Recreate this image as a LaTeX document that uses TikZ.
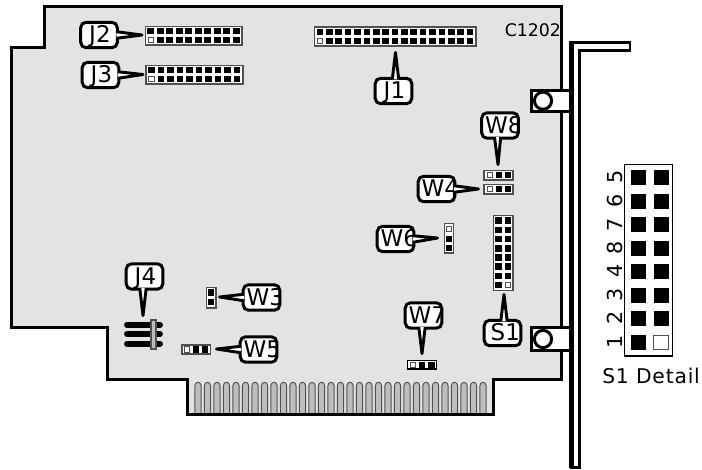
\documentclass[tikz,border=0pt]{standalone}
\usepackage{fontspec}
\usetikzlibrary{calc}
\setmainfont{DejaVu Sans}
\newfontfamily\detailfont[LetterSpace=4]{DejaVu Sans}
\definecolor{boardgray}{HTML}{E3E3E3}
\definecolor{fingergray}{HTML}{BDBDBD}
\definecolor{edgegray}{HTML}{505050}
\newcommand{\PinAt}[2]{\fill (#1-3.3,#2-3.3) rectangle (#1+3.3,#2+3.3);}
\newcommand{\OpenPinAt}[2]{\draw[openpin] (#1-2.6,#2-2.6) rectangle (#1+2.6,#2+2.6);}
\newcommand{\PointerFrom}[5]{%
  \filldraw[pointerline] ($(#1)+(#2)$) -- (#3) -- ($(#1)+(#4)$) #5;}
\tikzset{
  callbox/.style={draw=black,fill=white,line width=2.25pt,rounded corners=4pt,
    inner sep=0pt,outer sep=0pt,minimum width=27.4pt,minimum height=19.1pt},
  caption/.style 2 args={path picture={
    \node[anchor=base west,inner sep=0pt,minimum width=0pt,minimum height=0pt,draw=none,fill=none,
      font=\fontsize{17.25}{20}\selectfont]
      (t#1) at ($(path picture bounding box.west)+(#2,7.5)$) {#1};}},
  pointerline/.style={draw=black,fill=white,line width=2.2pt,line join=round},
  outline/.style={draw=black,line width=2.25pt,line join=miter},
  headerbox/.style={draw=edgegray,fill=white,line width=.9pt},
  openpin/.style={draw=edgegray,fill=white,line width=.7pt},
  fingerline/.style={draw=edgegray,fill=fingergray,line width=.7pt},
  rotdigit/.style={rotate=90,anchor=base,inner sep=0pt,font=\fontsize{15.5}{18}\selectfont},
}
\begin{document}
\begin{tikzpicture}[x=.75pt,y=-.75pt]
\useasboundingbox (0,0) rectangle (702,469);
% board
\fill[boardgray] (44,6) -- (561,6) -- (561,379) -- (493,379) -- (493,414) -- (187,414) -- (187,379) -- (107,379) -- (107,327) -- (11.5,327) -- (11.5,47.5) -- (44,47.5) -- cycle;
\node[anchor=base west,inner sep=0pt,font=\fontsize{13}{16}\selectfont] (c1202) at (504.5,36) {C1202};
% edge connector
\foreach \x in {0,...,30}{
  \pgfmathsetmacro{\fx}{198+9.5*\x}
  \draw[fingerline] (\fx-3.2,413) -- (\fx-3.2,386) .. controls (\fx-3.2,381) and (\fx+3.2,381) .. (\fx+3.2,386) -- (\fx+3.2,413);
}
\draw[outline] (44,6) -- (561,6) -- (561,379) -- (493,379) -- (493,414) -- (187,414) -- (187,379) -- (107,379) -- (107,327) -- (11.5,327) -- (11.5,47.5) -- (44,47.5) -- cycle;
% mounting tabs
\draw[outline,fill=white] (570,90) -- (531.5,90) -- (531.5,111.5) -- (570,111.5);
\draw[outline,fill=white] (543,100.7) circle (8.6);
\draw[outline,fill=white] (570,327) -- (531.5,327) -- (531.5,350.5) -- (570,350.5);
\draw[outline,fill=white] (543,339) circle (8.6);
% bracket
\draw[draw=black,fill=white,line width=2.1pt] (571.5,42.3) -- (630,42.3) -- (630,50.8) -- (579.5,50.8) -- (579.5,467.5) -- (571.5,467.5) -- cycle;
\draw[draw=black,line width=3.3pt] (571.5,41) -- (571.5,468);
% J2, J3
\draw[headerbox] (145.5,26.5) rectangle (242,45);
\foreach \i in {0,...,9}{\pgfmathsetmacro{\px}{150.7+9.5*\i}\PinAt{\px}{31}\ifnum\i>0 \PinAt{\px}{40}\fi}
\OpenPinAt{150.7}{40}
\draw[headerbox] (146,65.5) rectangle (243,84);
\foreach \i in {0,...,9}{\pgfmathsetmacro{\px}{151.5+9.5*\i}\PinAt{\px}{70}\ifnum\i>0 \PinAt{\px}{79}\fi}
\OpenPinAt{151.5}{79}
% J1
\draw[headerbox] (314.5,27) rectangle (476,46);
\foreach \i in {0,...,16}{\pgfmathsetmacro{\px}{320+9.375*\i}\PinAt{\px}{32}\ifnum\i>0 \PinAt{\px}{41}\fi}
\OpenPinAt{320}{41}
% W8, W4
\draw[headerbox] (484,170.5) rectangle (513,180);
\OpenPinAt{490}{175}\PinAt{499}{175}\PinAt{508}{175}
\draw[headerbox] (484,184.5) rectangle (513,194);
\OpenPinAt{490}{189}\PinAt{499}{189}\PinAt{508}{189}
% W6
\draw[headerbox] (444.5,223.5) rectangle (453.5,253);
\OpenPinAt{449}{229}\PinAt{449}{239}\PinAt{449}{248}
% S1 header
\draw[headerbox] (493.5,215.5) rectangle (513,290.5);
\foreach \i in {0,...,7}{\pgfmathsetmacro{\py}{220.7+9.2*\i}\PinAt{498.7}{\py}\ifnum\i<7 \PinAt{508}{\py}\fi}
\OpenPinAt{508}{285.1}
% W3
\draw[headerbox] (206.5,287.5) rectangle (216,308);
\PinAt{211}{292.5}\PinAt{211}{302}
% W5
\draw[headerbox] (182,345) rectangle (210.5,354);
\OpenPinAt{187}{349.5}\PinAt{196}{349.5}\PinAt{205}{349.5}
% W7
\draw[headerbox,draw=black] (407.5,360.5) rectangle (436.5,369);
\OpenPinAt{413}{365}\PinAt{422}{365}\PinAt{431.5}{365}
% J4
\foreach \yy in {324.7,333.9,343.7}{\draw[black,line width=4.4pt,line cap=round] (127,\yy) -- (160,\yy);}
\draw[draw=edgegray,fill=fingergray,line width=.8pt] (151,320) rectangle (156,349);
% callouts
\node[callbox,caption={J2}{8.5}] (j2) at (99,35) {};
\node[callbox,caption={J3}{8.5}] (j3) at (100.5,75) {};
\node[callbox,caption={J1}{8.5}] (j1) at (393.5,91) {};
\node[callbox,caption={W8}{3.5}] (w8) at (500,125.5) {};
\node[callbox,caption={W4}{3.5}] (w4) at (436.5,189) {};
\node[callbox,caption={W6}{3.5}] (w6) at (395.5,239) {};
\node[callbox,caption={J4}{8.5}] (j4) at (144.5,276.5) {};
\node[callbox,caption={W3}{3.5}] (w3) at (261.5,297.5) {};
\node[callbox,caption={W5}{3.5}] (w5) at (258.5,349.5) {};
\node[callbox,caption={W7}{3.5}] (w7) at (423.5,315.5) {};
\node[callbox,caption={S1}{6.5}] (s1) at (502.5,333) {};
\coordinate (j2tip) at (142,35);
\coordinate (j3tip) at (143,74.5);
\coordinate (j1tip) at (395.5,52.5);
\coordinate (w8tip) at (498,164.5);
\coordinate (w4tip) at (478.5,189);
\coordinate (w6tip) at (437.5,238);
\coordinate (j4tip) at (143,315.5);
\coordinate (w3tip) at (219.5,297);
\coordinate (w5tip) at (216.5,349);
\coordinate (w7tip) at (422,353.5);
\coordinate (s1tip) at (504,294.5);
\PointerFrom{j2.east}{-1,-3.3}{j2tip}{-1,3.3}{}
\PointerFrom{j3.east}{-1,-3.3}{j3tip}{-1,3.3}{}
\PointerFrom{j1.north}{-1.2,1}{j1tip}{5.2,1}{}
\PointerFrom{w8.south}{-5.5,-1}{w8tip}{0.7,-1}{}
\PointerFrom{w4.east}{-1,-3.3}{w4tip}{-1,3.3}{}
\PointerFrom{w6.east}{-1,-3.3}{w6tip}{-1,3.3}{}
\PointerFrom{j4.south}{-4.7,-1}{j4tip}{1.7,-1}{}
\PointerFrom{w3.west}{1,-3.3}{w3tip}{1,3.3}{}
\PointerFrom{w5.west}{1,-3.3}{w5tip}{1,3.3}{}
\PointerFrom{w7.south}{-4.7,-1}{w7tip}{1.7,-1}{}
\PointerFrom{s1.north}{-1.7,1}{s1tip}{4.7,1}{}
% S1 detail
\draw[draw=black,line width=.8pt] (624.5,164.5) rectangle (672.5,356);
\foreach \ry/\dg in {177.3/5,201/6,224.7/7,248/8,271.3/4,295/3,318.3/2,342/1}{
  \fill (631,\ry-7.5) rectangle (646,\ry+7.5);
  \ifnum\dg=1\relax
    \draw[draw=edgegray,fill=white,line width=.6pt] (653.8,\ry-7) rectangle (668.5,\ry+7);
  \else
    \fill (653.5,\ry-7.5) rectangle (668.5,\ry+7.5);
  \fi
  \node[rotdigit] (d\dg) at (622,\ry) {\dg};
}
\node[anchor=base west,inner sep=0pt,font=\detailfont\fontsize{15.2}{18}\selectfont] (s1detail) at (602,383) {S1 Detail};
\end{tikzpicture}
\end{document}
